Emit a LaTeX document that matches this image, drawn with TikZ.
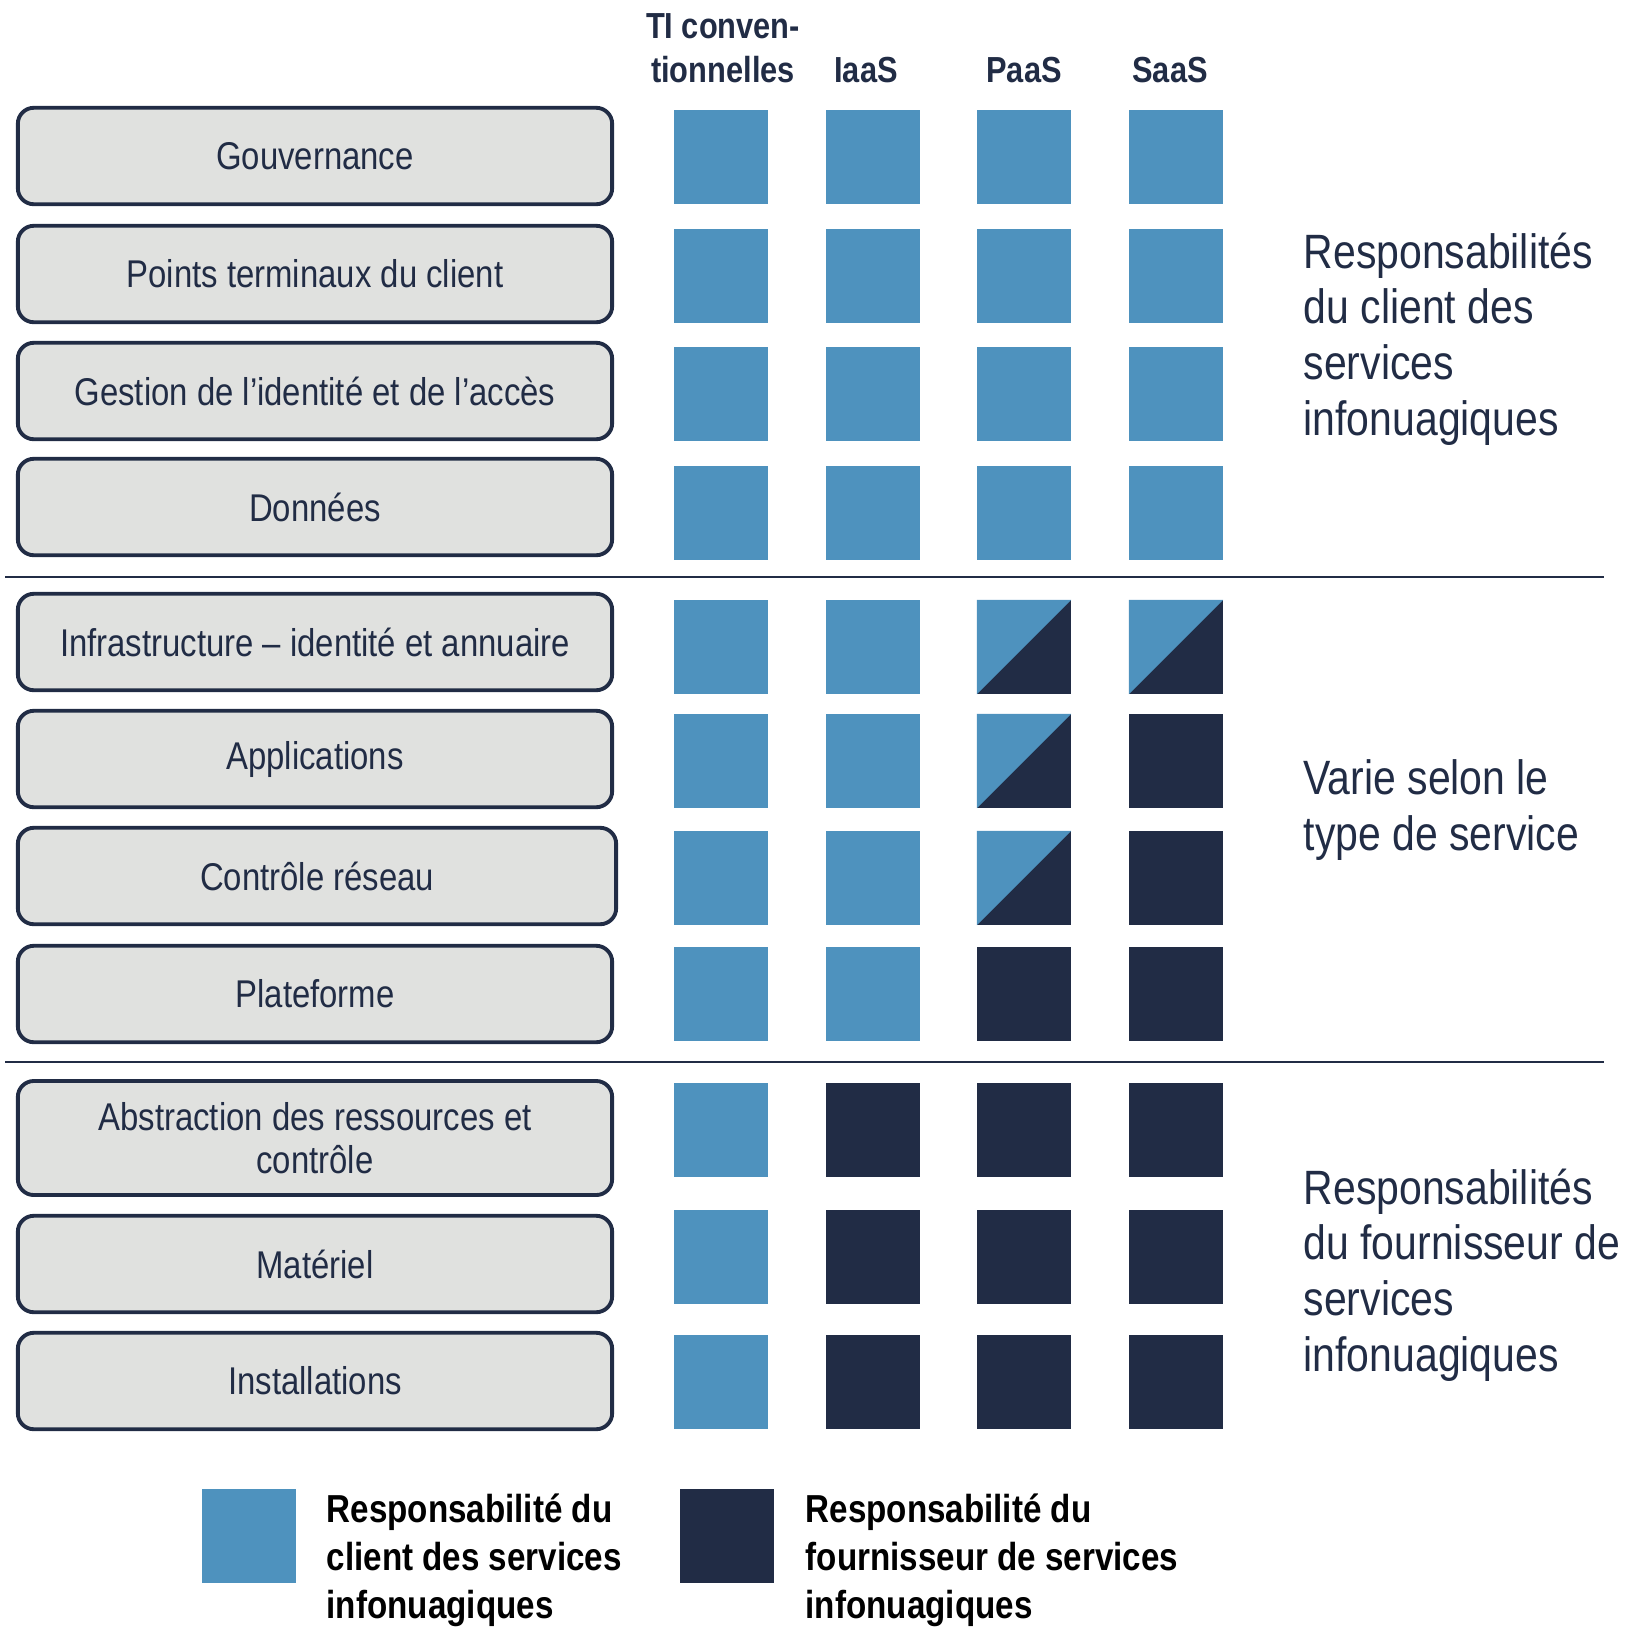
\documentclass[tikz,border=0pt]{standalone}
\usepackage{fontspec}
\setmainfont[FakeStretch=0.85]{Liberation Sans}
\usetikzlibrary{positioning}
\definecolor{navy}{HTML}{212C45}
\definecolor{cblue}{HTML}{4E92BE}
\definecolor{boxgrey}{HTML}{E0E1DF}
\tikzstyle{layer} = [rectangle, rounded corners=0.16cm, minimum width=5.94cm, minimum height=0.964cm, text centered, align=center, draw=navy, line width=1.1pt, fill=boxgrey, text=navy, font=\fontsize{11}{12.2}\selectfont]
\tikzstyle{client} = [rectangle, minimum size=0.943cm, inner sep=0pt, fill=cblue]
\tikzstyle{provider} = [rectangle, minimum size=0.943cm, inner sep=0pt, fill=navy]
\tikzstyle{shared} = [provider, path picture={\fill[cblue] (path picture bounding box.south west) -- (path picture bounding box.north west) -- (path picture bounding box.north east) -- cycle;}]
\tikzstyle{colhead} = [align=center, text=navy, inner sep=0pt, font=\bfseries\fontsize{10.3}{12.5}\selectfont]
\tikzstyle{sidetext} = [anchor=west, align=left, text=navy, inner sep=0pt, font=\fontsize{13.7}{15.8}\selectfont]
\tikzstyle{legendtext} = [anchor=west, align=left, text=black, inner sep=0pt, font=\bfseries\fontsize{11.1}{13.7}\selectfont]
\tikzstyle{sepline} = [navy, line width=0.45pt]

\begin{document}
\begin{tikzpicture}[x=0.01cm, y=-0.01cm]
\useasboundingbox (0,0) rectangle (1632,1644);

% column headers
\node (hti) [colhead] at (723,48) {TI conven-\\tionnelles};
\node (hiaas) [colhead] at (866,70) {IaaS};
\node (hpaas) [colhead] at (1024,70) {PaaS};
\node (hsaas) [colhead] at (1170,70) {SaaS};

% layers of the stack
\node (gouv) [layer] at (315,156) {Gouvernance};
\node (pts) [layer] at (315,274) {Points terminaux du client};
\node (ident) [layer] at (315,391) {Gestion de l’identité et de l’accès};
\node (donnees) [layer] at (315,507) {Données};
\node (infra) [layer] at (315,642) {Infrastructure – identité et annuaire};
\node (apps) [layer] at (315,759) {Applications};
\node (reseau) [layer, minimum width=5.98cm] at (317,876) {Contrôle réseau};
\node (plat) [layer] at (315,994) {Plateforme};
\node (abstr) [layer, minimum height=1.14cm] at (315,1138) {Abstraction des ressources et\\contrôle};
\node (mat) [layer] at (315,1264) {Matériel};
\node (instal) [layer] at (315,1381) {Installations};

% separators
\coordinate (sepa-l) at (5,577);
\coordinate (sepa-r) at (1604,577);
\coordinate (sepb-l) at (5,1062);
\coordinate (sepb-r) at (1604,1062);
\draw [sepline] (sepa-l) -- (sepa-r);
\draw [sepline] (sepb-l) -- (sepb-r);

% who is responsible, per layer and model
\foreach \row/\y/\a/\b/\c/\d in {gouv/157/client/client/client/client,
    pts/276/client/client/client/client,
    ident/394/client/client/client/client,
    donnees/513/client/client/client/client,
    infra/647/client/client/shared/shared,
    apps/761/client/client/shared/provider,
    reseau/878/client/client/shared/provider,
    plat/994/client/client/provider/provider,
    abstr/1130/client/provider/provider/provider,
    mat/1257/client/provider/provider/provider,
    instal/1382/client/provider/provider/provider}{
  \node (\row-ti) [\a] at (721,\y) {};
  \node (\row-iaas) [\b] at (873,\y) {};
  \node (\row-paas) [\c] at (1024,\y) {};
  \node (\row-saas) [\d] at (1176,\y) {};
}

% side labels
\node (clientresp) [sidetext] at (1303,339) {Responsabilités\\du client des\\services\\infonuagiques};
\node (varie) [sidetext] at (1303,810) {Varie selon le\\type de service};
\node (provresp) [sidetext] at (1303,1275) {Responsabilités\\du fournisseur de\\services\\infonuagiques};

% legend
\node (legclient) [client] at (249,1536) {};
\node (legclienttext) [legendtext] at (326,1560) {Responsabilité du\\client des services\\infonuagiques};
\node (legprov) [provider] at (727,1536) {};
\node (legprovtext) [legendtext] at (805,1560) {Responsabilité du\\fournisseur de services\\infonuagiques};
\end{tikzpicture}
\end{document}
